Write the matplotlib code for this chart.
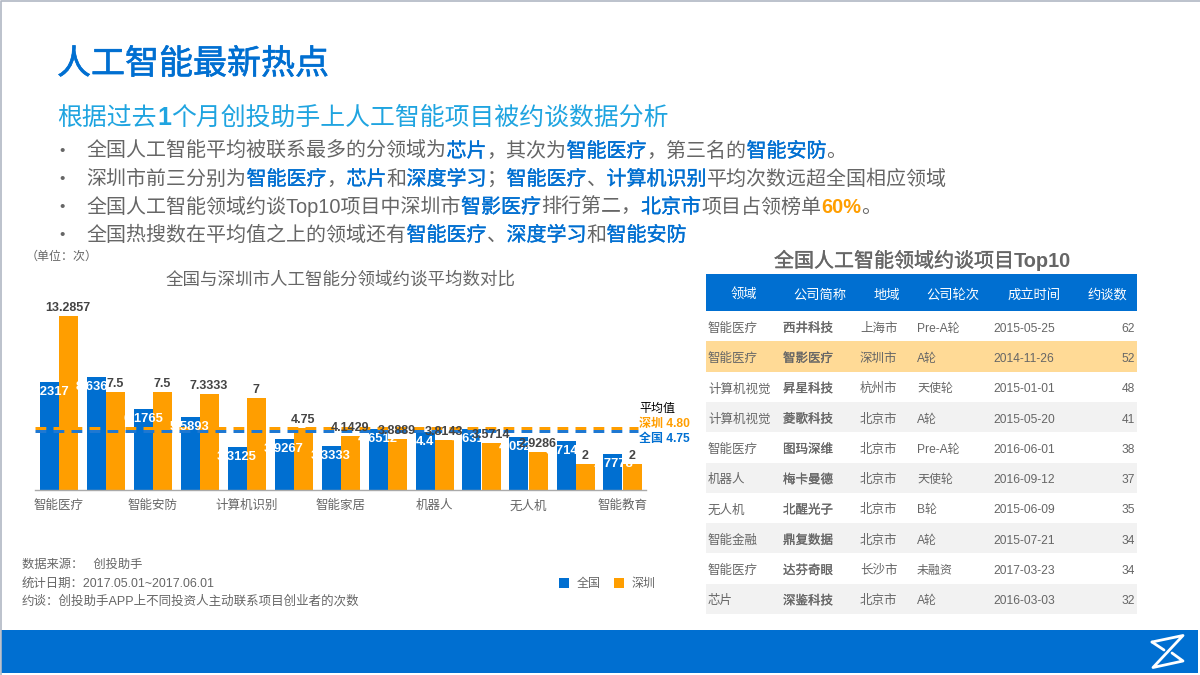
import numpy as np
import matplotlib
matplotlib.use("Agg")
import matplotlib.pyplot as plt
import matplotlib.patheffects as pe
from matplotlib.patches import Rectangle
from matplotlib.transforms import Affine2D

plt.rcParams['font.family'] = ['Liberation Sans', 'Noto Sans CJK SC']

BLUE = "#006FD1"
ORANGE = "#FF9E00"
SKY = "#1FA4E0"
GREY = "#666666"
DARK = "#444444"


def px(v):
    # picture pixels to points at dpi 100
    return v * 0.72


def heavier(color, amount=0.25):
    # the CJK font only has regular and bold, the picture has something between
    return [pe.withStroke(linewidth=amount, foreground=color)]


# Chart data
cats = ["智能医疗", "", "智能安防", "", "计算机识别", "", "智能家居", "",
        "机器人", "", "无人机", "", "智能教育"]
all_cn = [8.2317, 8.6364, 6.1765, 5.5893, 3.3125, 3.9267, 3.3333,
          4.6512, 4.4, 4.6316, 4.0526, 3.7143, 2.7778]
shenzhen = [13.2857, 7.5, 7.5, 7.3333, 7, 4.75, 4.1429,
            3.8889, 3.8143, 3.5714, 2.9286, 2, 2]
# the dashed lines sit a bit lower in the picture than their captions say
line_sz = 4.72
line_cn = 4.47

# Table data
cols = ["领域", "公司简称", "地域", "公司轮次", "成立时间", "约谈数"]
rows = [
    ["智能医疗", "西井科技", "上海市", "Pre-A轮", "2015-05-25", 62],
    ["智能医疗", "智影医疗", "深圳市", "A轮", "2014-11-26", 52],
    ["计算机视觉", "昇星科技", "杭州市", "天使轮", "2015-01-01", 48],
    ["计算机视觉", "菱歌科技", "北京市", "A轮", "2015-05-20", 41],
    ["智能医疗", "图玛深维", "北京市", "Pre-A轮", "2016-06-01", 38],
    ["机器人", "梅卡曼德", "北京市", "天使轮", "2016-09-12", 37],
    ["无人机", "北醒光子", "北京市", "B轮", "2015-06-09", 35],
    ["智能金融", "鼎复数据", "北京市", "A轮", "2015-07-21", 34],
    ["智能医疗", "达芬奇眼", "长沙市", "未融资", "2017-03-23", 34],
    ["芯片", "深鉴科技", "北京市", "A轮", "2016-03-03", 32],
]
col_px = [75, 77, 57, 76, 86, 60]

# Bullet lines: (text, colour, emphasised)
bullets = [
    [("全国人工智能平均被联系最多的分领域为", GREY, False), ("芯片", BLUE, True),
     ("，其次为", GREY, False), ("智能医疗", BLUE, True), ("，第三名的", GREY, False),
     ("智能安防", BLUE, True), ("。", GREY, False)],
    [("深圳市前三分别为", GREY, False), ("智能医疗", BLUE, True), ("，", GREY, False),
     ("芯片", BLUE, True), ("和", GREY, False), ("深度学习", BLUE, True), ("；", GREY, False),
     ("智能医疗", BLUE, True), ("、", GREY, False), ("计算机识别", BLUE, True),
     ("平均次数远超全国相应领域", GREY, False)],
    [("全国人工智能领域约谈Top10项目中深圳市", GREY, False), ("智影医疗", BLUE, True),
     ("排行第二，", GREY, False), ("北京市", BLUE, True), ("项目占领榜单", GREY, False),
     ("60%", ORANGE, True), ("。", GREY, False)],
    [("全国热搜数在平均值之上的领域还有", GREY, False), ("智能医疗", BLUE, True),
     ("、", GREY, False), ("深度学习", BLUE, True), ("和", GREY, False),
     ("智能安防", BLUE, True)],
]

fig = plt.figure(figsize=(12, 6.75), dpi=100)

# Page layer in picture pixels
page = fig.add_axes([0, 0, 1, 1])
page.set_xlim(0, 1200)
page.set_ylim(675, 0)
page.axis("off")
page.plot([0.5, 0.5, 1200], [675, 0.5, 0.5], color="#B0B8C4", lw=1.2)
page.add_patch(Rectangle((1, 630), 1197, 43, color=BLUE, lw=0))
page.plot([1152, 1183, 1153, 1183, 1172], [642, 635.5, 667.5, 661, 653],
          color="white", lw=2, solid_joinstyle="round", solid_capstyle="round")
page.plot([1152, 1164], [642, 650], color="white", lw=2, solid_capstyle="round")

t = page.text(57, 65, "人工智能最新热点", color=BLUE, fontsize=px(34), va="center")
t.set_path_effects(heavier(BLUE, 0.45))


def advance(seg, size, weight):
    # CJK glyphs advance one em, latin runs get measured
    renderer = fig.canvas.get_renderer()
    latin = "".join(ch for ch in seg if ord(ch) < 0x2E80)
    total = sum(1 for ch in seg if ord(ch) >= 0x2E80) * size / 0.72
    if latin:
        probe = page.text(0, 0, "|" + latin + "|", fontsize=size, weight=weight)
        bar = page.text(0, 0, "||", fontsize=size, weight=weight)
        total += probe.get_window_extent(renderer).width - bar.get_window_extent(renderer).width
        probe.remove()
        bar.remove()
    return total


def rich_line(x, y, parts, size):
    for seg, color, strong in parts:
        w = "bold" if strong and seg.isascii() else "normal"
        txt = page.text(x, y, seg, color=color, fontsize=size, weight=w, va="baseline")
        if strong and w == "normal":
            txt.set_path_effects(heavier(color))
        x += advance(seg, size, w)


rich_line(57.5, 125, [("根据过去", SKY, False), ("1", SKY, True),
                      ("个月创投助手上人工智能项目被约谈数据分析", SKY, False)], px(24.85))
for i, parts in enumerate(bullets):
    y = 157 + i * 28
    page.text(59, y - 2, "•", color=GREY, fontsize=px(15))
    rich_line(86.5, y, parts, px(20))

page.text(26, 257, "（单位：次）", color=GREY, fontsize=px(12), va="center")
page.text(341, 279, "全国与深圳市人工智能分领域约谈平均数对比", color=GREY,
          fontsize=px(17.5), ha="center", va="center")
page.text(22, 565, "数据来源：   创投助手", color=GREY, fontsize=px(12.3), va="center")
page.text(22, 584, "统计日期：2017.05.01~2017.06.01", color=GREY, fontsize=px(12.4), va="center")
page.text(22, 601, "约谈：创投助手APP上不同投资人主动联系项目创业者的次数", color=GREY,
          fontsize=px(12.5), va="center")
rich_line(774, 267, [("全国人工智能领域约谈项目", GREY, True), ("Top10", GREY, True)], px(20))

# Bar chart
ax = fig.add_axes([35 / 1200, 1 - 490 / 675, 611 / 1200, 190 / 675])
ax.patch.set_alpha(0)
x = np.arange(len(cats))
w = 19 / 47
bars_cn = ax.bar(x - w / 2, all_cn, w, color=BLUE, label="全国")
bars_sz = ax.bar(x + w / 2, shenzhen, w, color=ORANGE, label="深圳")
ax.plot([-0.5, 12.33], [line_cn, line_cn], color="#1E78D2", lw=px(3),
        ls=(0, (3.6, 2.4)), dash_capstyle="butt", zorder=3)
ax.plot([-0.5, 12.33], [line_sz, line_sz], color=ORANGE, lw=px(3),
        ls=(0, (3.6, 2.4)), dash_capstyle="butt", zorder=3)
for xi, v in zip(x, all_cn):
    ax.annotate(f"{v:g}", (xi - w / 2, v), xytext=(0, -px(10)), textcoords="offset points",
                ha="center", va="center", color="white", weight="bold",
                fontsize=px(13), zorder=4)
for xi, v in zip(x, shenzhen):
    ax.annotate(f"{v:g}", (xi + w / 2, v), xytext=(0, px(8)), textcoords="offset points",
                ha="center", va="center", color=DARK, weight="bold",
                fontsize=px(12.5), zorder=4)
ax.set_xlim(-0.5, 12.5)
ax.set_ylim(0, 14.507)
ax.set_yticks([])
ax.set_xticks(x, cats)
ax.tick_params(axis="x", length=0, pad=px(10), labelsize=px(12.5), labelcolor=GREY)
for s in ["top", "left", "right"]:
    ax.spines[s].set_visible(False)
ax.spines["bottom"].set_color("#AAAAAA")
ax.spines["bottom"].set_linewidth(1)

page.text(639, 409, "平均值", color="black", fontsize=px(12), va="center")
page.text(639, 424, "深圳 4.80", color=ORANGE, fontsize=px(12), va="center", weight="bold")
page.text(639, 439, "全国 4.75", color=BLUE, fontsize=px(12), va="center", weight="bold")

leg = fig.legend(handles=[bars_cn, bars_sz], loc="center left",
                 bbox_to_anchor=(559 / 1200, 1 - 584 / 675), ncol=2, frameon=False,
                 fontsize=px(12), handlelength=0.83, handleheight=0.83,
                 handletextpad=0.67, columnspacing=1.08, borderpad=0, borderaxespad=0)
for t in leg.get_texts():
    t.set_color(GREY)

# Table
tax = fig.add_axes([706 / 1200, 1 - 614 / 675, 431 / 1200, 340 / 675])
tax.axis("off")
tb = tax.table(cellText=[[str(c) for c in r] for r in rows], colLabels=cols,
               colWidths=[c / 431 for c in col_px], bbox=[0, 0, 1, 1])
tb.auto_set_font_size(False)
for (r, c), cell in tb.get_celld().items():
    cell.set_edgecolor("none")
    cell.set_linewidth(0)
    cell.PAD = 2 / col_px[c]
    cell.set_height(37 if r == 0 else 30.3)
    # cell text is placed in display pixels, nudge it down like the picture
    cell.get_text().set_transform(Affine2D().translate(0, -3 if r == 0 else -2.5))
    if r == 0:
        cell.set_facecolor(BLUE)
        cell.set_text_props(color="white", ha="center", fontsize=px(13.3))
    else:
        if r == 2:
            cell.set_facecolor("#FFDA96")
        elif r in (4, 6, 8, 10):
            cell.set_facecolor("#F2F2F2")
        else:
            cell.set_facecolor("white")
        cell.set_text_props(color=GREY, ha="right" if c == 5 else "left",
                            fontsize=px(12.5) if c < 3 else px(12))
        if c == 1:
            cell.get_text().set_path_effects(heavier(GREY, 0.15))

fig.savefig("out.png", dpi=100)
